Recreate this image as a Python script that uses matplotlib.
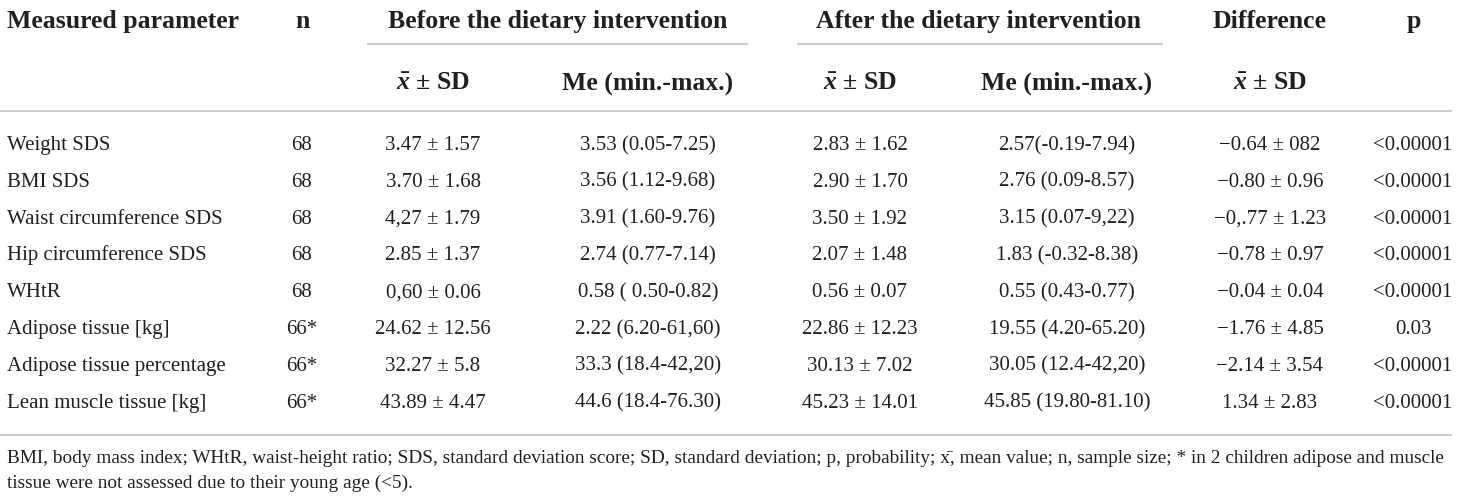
import matplotlib
matplotlib.use("Agg")
from matplotlib import pyplot as plt

# table contents
parameters = ["Weight SDS", "BMI SDS", "Waist circumference SDS", "Hip circumference SDS",
              "WHtR", "Adipose tissue [kg]", "Adipose tissue percentage", "Lean muscle tissue [kg]"]
n_values = ["68", "68", "68", "68", "68", "66*", "66*", "66*"]
before_mean = ["3.47 ± 1.57", "3.70 ± 1.68", "4,27 ± 1.79", "2.85 ± 1.37",
               "0,60 ± 0.06", "24.62 ± 12.56", "32.27 ± 5.8", "43.89 ± 4.47"]
before_me = ["3.53 (0.05-7.25)", "3.56 (1.12-9.68)", "3.91 (1.60-9.76)", "2.74 (0.77-7.14)",
             "0.58 ( 0.50-0.82)", "2.22 (6.20-61,60)", "33.3 (18.4-42,20)", "44.6 (18.4-76.30)"]
after_mean = ["2.83 ± 1.62", "2.90 ± 1.70", "3.50 ± 1.92", "2.07 ± 1.48",
              "0.56 ± 0.07", "22.86 ± 12.23", "30.13 ± 7.02", "45.23 ± 14.01"]
after_me = ["2.57(-0.19-7.94)", "2.76 (0.09-8.57)", "3.15 (0.07-9,22)", "1.83 (-0.32-8.38)",
            "0.55 (0.43-0.77)", "19.55 (4.20-65.20)", "30.05 (12.4-42,20)", "45.85 (19.80-81.10)"]
difference = ["\u22120.64 ± 082", "\u22120.80 ± 0.96", "\u22120,.77 ± 1.23", "\u22120.78 ± 0.97",
              "\u22120.04 ± 0.04", "\u22121.76 ± 4.85", "\u22122.14 ± 3.54", "1.34 ± 2.83"]
p_values = ["<0.00001"] * 5 + ["0.03", "<0.00001", "<0.00001"]

group_titles = ["Before the dietary intervention", "After the dietary intervention"]
footnote = ["BMI, body mass index; WHtR, waist-height ratio; SDS, standard deviation score; "
            "SD, standard deviation; p, probability; x\u0304, mean value; n, sample size; "
            "* in 2 children adipose and muscle",
            "tissue were not assessed due to their young age (<5)."]

plt.rcParams["font.family"] = ["Liberation Serif", "DejaVu Serif"]
plt.rcParams["mathtext.fontset"] = "custom"
plt.rcParams["mathtext.rm"] = "Liberation Serif:bold"
plt.rcParams["mathtext.it"] = "Liberation Serif:italic:bold"
plt.rcParams["mathtext.bf"] = "Liberation Serif:bold"

TXT = "#231f20"
LINE = "#cccccc"

fig = plt.figure(figsize=(14.6, 5.01), dpi=100)
ax = fig.add_axes([0, 0, 1, 1])
ax.set_xlim(0, 1460)
ax.set_ylim(501, 0)
ax.axis("off")

# column centres (pixels)
col_x = [302, 433, 648, 860, 1067, 1270, 1413]
hsize = 18.5
dsize = 15
fsize = 13.9

# header row 1 (baselines)
y_h1 = 27.5
ax.text(7, y_h1, "Measured parameter", ha="left", va="baseline", fontsize=hsize, fontweight="bold", color=TXT)
ax.text(col_x[0], y_h1, "n", ha="center", va="baseline", fontsize=hsize, fontweight="bold", color=TXT)
ax.text(558, y_h1, group_titles[0], ha="center", va="baseline", fontsize=hsize, fontweight="bold", color=TXT)
ax.text(979, y_h1, group_titles[1], ha="center", va="baseline", fontsize=hsize, fontweight="bold", color=TXT)
ax.text(1270, y_h1, "Difference", ha="center", va="baseline", fontsize=hsize, fontweight="bold", color=TXT)
ax.text(1414, y_h1, "p", ha="center", va="baseline", fontsize=hsize, fontweight="bold", color=TXT)

ax.plot([367, 748], [44, 44], color=LINE, lw=1.5, solid_capstyle="butt")
ax.plot([797, 1163], [44, 44], color=LINE, lw=1.5, solid_capstyle="butt")

# header row 2
mean_label = r"$\bar{x}$ ± SD"
for cx, lab in zip(col_x[1:6], [mean_label, "Me (min.-max.)", mean_label, "Me (min.-max.)", mean_label]):
    ax.text(cx, 89.5, lab, ha="center", va="baseline", fontsize=hsize, fontweight="bold", color=TXT)

ax.plot([0, 1452], [110.5, 110.5], color=LINE, lw=1.5, solid_capstyle="butt")

# body rows
row_y0 = 150
row_step = 36.8
columns = [n_values, before_mean, before_me, after_mean, after_me, difference, p_values]
for i, name in enumerate(parameters):
    y = row_y0 + i * row_step
    ax.text(7, y, name, ha="left", va="baseline", fontsize=dsize, color=TXT)
    for cx, col in zip(col_x, columns):
        ax.text(cx, y, col[i], ha="center", va="baseline", fontsize=dsize, color=TXT)

ax.plot([0, 1452], [435, 435], color=LINE, lw=1.5, solid_capstyle="butt")

# footnote
ax.text(7, 463, footnote[0], ha="left", va="baseline", fontsize=fsize, color=TXT)
ax.text(7, 488, footnote[1], ha="left", va="baseline", fontsize=fsize, color=TXT)

fig.savefig("out.png", dpi=100, facecolor="white")
